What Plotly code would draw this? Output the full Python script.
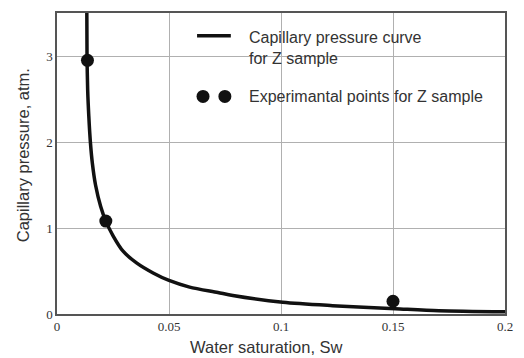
import plotly.graph_objects as go

# Capillary pressure curve
curve_sw = [0.0133, 0.0134, 0.0137, 0.0142, 0.0149, 0.0158, 0.0172, 0.0195, 0.0218,
            0.0251, 0.0295, 0.0355, 0.0429, 0.0500, 0.0592, 0.0718, 0.0785, 0.1008,
            0.1230, 0.1510, 0.1705, 0.2000]
curve_pc = [3.60, 3.00, 2.60, 2.30, 2.00, 1.75, 1.50, 1.25, 1.08,
            0.906, 0.73, 0.594, 0.477, 0.39, 0.313, 0.25, 0.215, 0.136,
            0.097, 0.062, 0.039, 0.027]

# Experimental points
exp_sw = [0.0136, 0.0218, 0.1500]
exp_pc = [2.95, 1.08, 0.148]

x_ticks = [0, 0.05, 0.1, 0.15, 0.2]
x_tick_labels = ["0", "0.05", "0.1", "0.15", "0.2"]
y_ticks = [0, 1, 2, 3]
y_tick_labels = ["0", "1", "2", "3"]

x_title = "Water saturation, Sw"
y_title = "Capillary pressure, atm."
legend_line_label = "Capillary pressure curve<br>for Z sample"
legend_point_label = "Experimantal points for Z sample"

fig = go.Figure()
fig.add_trace(go.Scatter(x=curve_sw, y=curve_pc, mode="lines",
                         line=dict(color="#111111", width=3.5, shape="spline", smoothing=0.8),
                         showlegend=False, cliponaxis=True))
fig.add_trace(go.Scatter(x=exp_sw, y=exp_pc, mode="markers",
                         marker=dict(color="#111111", size=13),
                         showlegend=False, cliponaxis=False))

W, H = 524, 358
ml, mr, mt, mb = 57, 16, 11, 44
pw, ph = W - ml - mr, H - mt - mb

def px(x):
    return (x - ml) / pw

def py(y):
    return 1 - (y - mt) / ph

shapes = [
    dict(type="rect", xref="paper", yref="paper", x0=px(191), x1=1, y0=py(112), y1=py(17),
         fillcolor="white", line=dict(width=0), layer="below"),
    dict(type="line", xref="paper", yref="paper", x0=px(198), x1=px(232), y0=py(34), y1=py(34),
         line=dict(color="#111111", width=3.5), layer="above"),
]
for cx in (204, 226):
    shapes.append(dict(type="circle", xref="paper", yref="paper",
                       xsizemode="pixel", ysizemode="pixel",
                       xanchor=px(cx), yanchor=py(95),
                       x0=-6.5, x1=6.5, y0=-6.5, y1=6.5,
                       fillcolor="#111111", line=dict(width=0), layer="above"))

leg_font = dict(family="Liberation Sans", size=16, color="#333333")
title_font = dict(family="Liberation Sans", size=16.5, color="#333333")
annotations = [
    dict(xref="paper", yref="paper", x=px(248), y=py(46), text=legend_line_label,
         showarrow=False, xanchor="left", yanchor="middle", align="left", font=leg_font),
    dict(xref="paper", yref="paper", x=px(248), y=py(95), text=legend_point_label,
         showarrow=False, xanchor="left", yanchor="middle", align="left", font=leg_font),
    dict(xref="paper", yref="paper", x=px(268), y=py(347), text=x_title,
         showarrow=False, xanchor="center", yanchor="middle", font=title_font),
    dict(xref="paper", yref="paper", x=px(23), y=py(154), text=y_title, textangle=-90,
         showarrow=False, xanchor="center", yanchor="middle", font=title_font),
]

tick_font = dict(family="Liberation Serif", size=13, color="#333333")
fig.update_layout(
    width=W, height=H,
    margin=dict(l=ml, r=mr, t=mt, b=mb),
    paper_bgcolor="white", plot_bgcolor="white",
    shapes=shapes, annotations=annotations,
    showlegend=False,
)
fig.update_xaxes(range=[0, 0.2], tickvals=x_ticks, ticktext=x_tick_labels,
                 showgrid=True, gridcolor="#b0b0b0", gridwidth=1,
                 showline=True, linecolor="#555555", linewidth=1.5, mirror=True,
                 zeroline=False, ticks="", tickfont=tick_font)
fig.update_yaxes(range=[0, 3.5], tickvals=y_ticks, ticktext=y_tick_labels,
                 showgrid=True, gridcolor="#b0b0b0", gridwidth=1,
                 showline=True, linecolor="#555555", linewidth=1.5, mirror=True,
                 zeroline=False, ticks="", tickfont=tick_font)

fig.write_html("out.html")
